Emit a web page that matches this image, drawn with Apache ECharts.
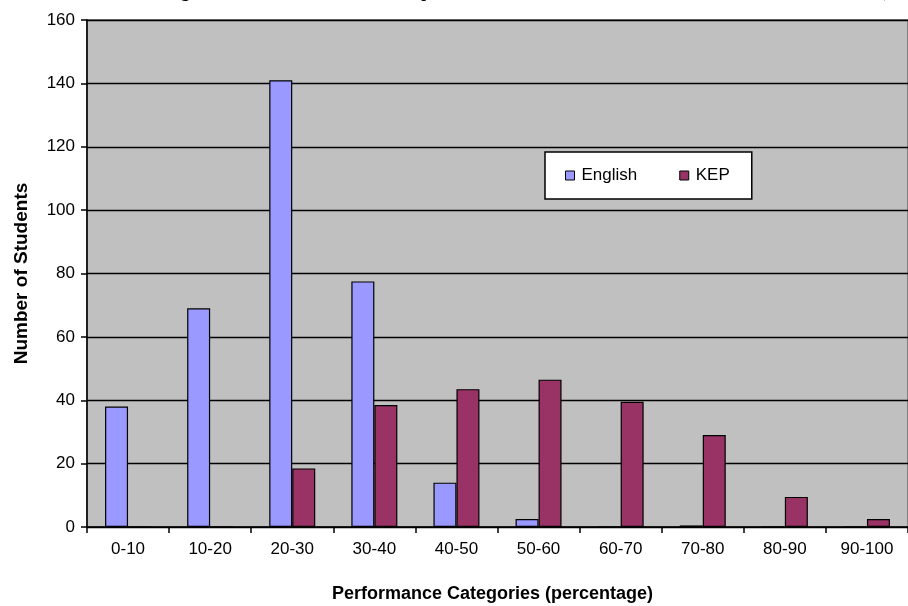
<!DOCTYPE html>
<html>
<head>
<meta charset="utf-8">
<script src="https://cdn.jsdelivr.net/npm/echarts@6/dist/echarts.min.js"></script>
<style>
  html, body { margin: 0; padding: 0; background: #fff; }
  #chart { width: 908px; height: 606px; }
</style>
</head>
<body>
<div id="chart"></div>
<script>
// Performance bands (percentage ranges)
const categories = ['0-10', '10-20', '20-30', '30-40', '40-50', '50-60', '60-70', '70-80', '80-90', '90-100'];
// Number of students per band
const englishCounts = [38, 69, 141, 77.5, 14, 2.5, 0, 0.5, 0, 0];
const kepCounts = [0, 0, 18.5, 38.5, 43.5, 46.5, 39.5, 29, 9.5, 2.5];
// Value axis ticks
const yTicks = [0, 20, 40, 60, 80, 100, 120, 140, 160];

const chart = echarts.init(document.getElementById('chart'), null, { renderer: 'canvas' });

const tickFont = { fontFamily: 'Liberation Sans, Arial, sans-serif', fontSize: 17, color: '#000' };

chart.setOption({
  animation: false,
  backgroundColor: '#ffffff',
  graphic: [
    {
      // figure caption, running off the top of the page
      type: 'text',
      left: 166,
      top: -16,
      silent: true,
      style: {
        text: 'Figure 4: Distribution of Students\u2019 performance in the Two Examinations at the End of Term One (2010)',
        font: 'bold 17px "Liberation Serif", "Times New Roman", serif',
        fill: '#000'
      }
    },
    {
      type: 'text',
      left: 332,
      top: 585,
      silent: true,
      style: {
        text: 'Performance Categories (percentage)',
        font: 'bold 18px "Liberation Sans", Arial, sans-serif',
        fill: '#000'
      }
    }
  ],
  legend: {
    left: 545,
    top: 152,
    padding: [15, 22, 15, 20],
    backgroundColor: '#ffffff',
    borderColor: '#000000',
    borderWidth: 1.5,
    borderRadius: 0,
    itemWidth: 9,
    itemHeight: 9,
    itemGap: 42,
    icon: 'rect',
    textStyle: { fontFamily: 'Liberation Sans, Arial, sans-serif', fontSize: 17, color: '#000', padding: [0, 0, 0, 2] },
    itemStyle: { borderColor: '#000', borderWidth: 1 },
    data: ['English', 'KEP']
  },
  grid: {
    left: 87,
    top: 20,
    right: -8,
    bottom: 79,
    show: true,
    backgroundColor: '#c0c0c0',
    borderColor: '#808080',
    borderWidth: 2
  },
  xAxis: {
    type: 'category',
    data: categories,
    boundaryGap: true,
    axisLine: { show: true, lineStyle: { color: '#000', width: 1.5 } },
    axisTick: { show: true, alignWithLabel: false, length: 6, lineStyle: { color: '#000', width: 1.5 } },
    axisLabel: Object.assign({ margin: 14, interval: 0 }, tickFont),
    splitLine: { show: false }
  },
  yAxis: {
    type: 'value',
    min: yTicks[0],
    max: yTicks[yTicks.length - 1],
    interval: yTicks[1] - yTicks[0],
    name: 'Number of Students',
    nameLocation: 'middle',
    nameGap: 56,
    nameTextStyle: { fontFamily: 'Liberation Sans, Arial, sans-serif', fontSize: 19, fontWeight: 'bold', color: '#000' },
    axisLine: { show: true, lineStyle: { color: '#000', width: 1.5 } },
    axisTick: { show: true, length: 6, lineStyle: { color: '#000', width: 1.5 } },
    axisLabel: Object.assign({ margin: 12 }, tickFont),
    splitLine: { show: true, lineStyle: { color: '#000', width: 1.3 } }
  },
  series: [
    {
      name: 'English',
      type: 'bar',
      data: englishCounts,
      barWidth: 23,
      barGap: '0%',
      itemStyle: { color: '#9999ff', borderColor: '#000', borderWidth: 1.2 }
    },
    {
      name: 'KEP',
      type: 'bar',
      data: kepCounts,
      barWidth: 23,
      barGap: '0%',
      itemStyle: { color: '#993366', borderColor: '#000', borderWidth: 1.2 }
    }
  ]
});
</script>
</body>
</html>
